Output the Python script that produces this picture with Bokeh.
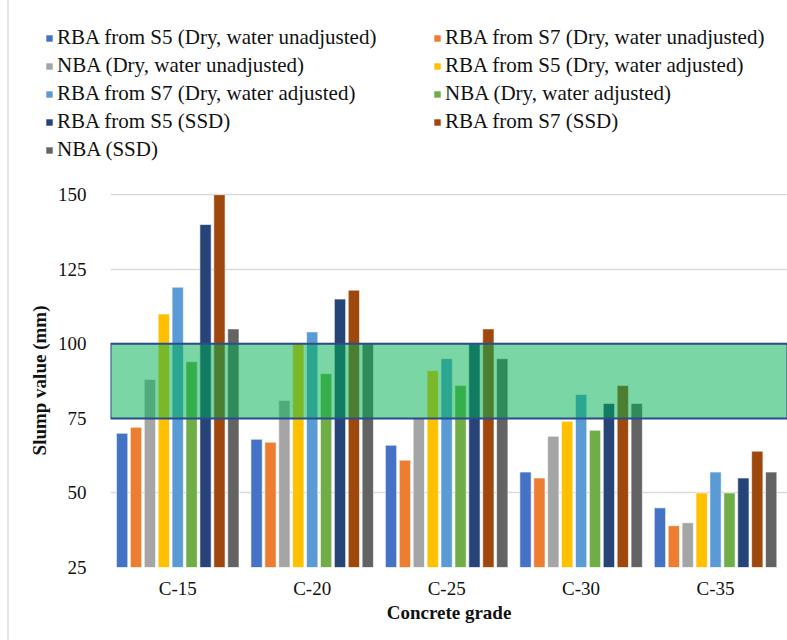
from bokeh.plotting import figure
from bokeh.models import (ColumnDataSource, Range1d, FixedTicker, Legend, LegendItem,
                          BoxAnnotation)
from bokeh.layouts import column
from bokeh.transform import dodge
from bokeh.embed import file_html
from bokeh.resources import INLINE

grades = ["C-15", "C-20", "C-25", "C-30", "C-35"]
series = [
    "RBA from S5 (Dry, water unadjusted)",
    "RBA from S7 (Dry, water unadjusted)",
    "NBA (Dry, water unadjusted)",
    "RBA from S5 (Dry, water adjusted)",
    "RBA from S7 (Dry, water adjusted)",
    "NBA (Dry, water adjusted)",
    "RBA from S5 (SSD)",
    "RBA from S7 (SSD)",
    "NBA (SSD)",
]
rba_s5_dry_unadj = [70, 68, 66, 57, 45]
rba_s7_dry_unadj = [72, 67, 61, 55, 39]
nba_dry_unadj = [88, 81, 75, 69, 40]
rba_s5_dry_adj = [110, 100, 91, 74, 50]
rba_s7_dry_adj = [119, 104, 95, 83, 57]
nba_dry_adj = [94, 90, 86, 71, 50]
rba_s5_ssd = [140, 115, 100, 80, 55]
rba_s7_ssd = [150, 118, 105, 86, 64]
nba_ssd = [105, 100, 95, 80, 57]
values = [rba_s5_dry_unadj, rba_s7_dry_unadj, nba_dry_unadj, rba_s5_dry_adj,
          rba_s7_dry_adj, nba_dry_adj, rba_s5_ssd, rba_s7_ssd, nba_ssd]
colors = ["#4472C4", "#ED7D31", "#A5A5A5", "#FFC000", "#5B9BD5",
          "#70AD47", "#264478", "#9E480E", "#636363"]
acceptable_low, acceptable_high = 75, 100

FONT = "Liberation Serif"
TXT = "#111111"
SHIFT = 9  # left margin taken by the chart's frame border line

# ---- main chart ----
p = figure(width=787 - SHIFT, height=457, output_backend="svg", toolbar_location=None,
           x_range=Range1d(0, 5.035), y_range=Range1d(25, 150.4),
           min_border_left=110 - SHIFT, min_border_right=0, min_border_top=10,
           min_border_bottom=73)
p.frame_align = False
p.outline_line_color = None
p.xgrid.grid_line_color = None
p.ygrid.grid_line_color = "#D9D9D9"
p.ygrid.grid_line_width = 1.5
p.yaxis.ticker = FixedTicker(ticks=[25, 50, 75, 100, 125, 150])
p.xaxis.ticker = FixedTicker(ticks=[i + 0.5 for i in range(len(grades))])
p.xaxis.major_label_overrides = {i + 0.5: g for i, g in enumerate(grades)}

for ax in (p.xaxis[0], p.yaxis[0]):
    ax.axis_line_color = None
    ax.major_tick_line_color = None
    ax.minor_tick_line_color = None
    ax.major_label_text_font = FONT
    ax.major_label_text_font_size = "19px"
    ax.major_label_text_color = TXT
    ax.axis_label_text_font = FONT
    ax.axis_label_text_font_size = "19px"
    ax.axis_label_text_font_style = "bold"
    ax.axis_label_text_color = TXT
p.xaxis.axis_label = "Concrete grade"
p.yaxis.axis_label = "Slump value (mm)"
p.xaxis.major_label_standoff = 4
p.xaxis.axis_label_standoff = 0
p.yaxis.major_label_standoff = 18
p.yaxis.axis_label_standoff = 5

pos = [i + 0.5 for i in range(len(grades))]
pitch = 0.1034
for j, (vals, c) in enumerate(zip(values, colors)):
    src = ColumnDataSource(dict(x=pos, top=vals))
    p.vbar(x=dodge("x", (j - 4) * pitch, range=p.x_range), top="top", bottom=25,
           width=0.084, source=src, fill_color=c, line_color="white",
           line_alpha=0.6, line_width=1)

box = BoxAnnotation(bottom=acceptable_low, top=acceptable_high,
                    fill_color="#00B050", fill_alpha=0.52,
                    line_color="#2F4B8F", line_alpha=1, line_width=2)
p.add_layout(box)

# ---- legend panel ----
lf = figure(width=787 - SHIFT, height=183, output_backend="svg", toolbar_location=None,
            x_axis_type=None, y_axis_type=None, x_range=Range1d(0, 1), y_range=Range1d(0, 1),
            min_border_left=0, min_border_right=0, min_border_top=0, min_border_bottom=0)
lf.frame_align = False
lf.outline_line_color = None
lf.xgrid.grid_line_color = None
lf.ygrid.grid_line_color = None
# legend swatches only: one point outside the panel's range each
leg_r = [lf.vbar(x=[-5], top=[-5], bottom=[-6], width=0.1, fill_color=c, line_color=None)
         for c in colors]

def make_legend(idx, loc):
    lg = Legend(items=[LegendItem(label=series[k], renderers=[leg_r[k]]) for k in idx],
                location=loc, orientation="vertical",
                label_text_font=FONT, label_text_font_size="21px",
                label_text_color=TXT, glyph_width=8, glyph_height=8,
                label_standoff=4, label_height=23, spacing=3, padding=0, margin=0,
                background_fill_alpha=0, border_line_alpha=0)
    lf.add_layout(lg, "center")

make_legend([0, 2, 4, 6, 8], (45 - SHIFT, 21))
make_legend([1, 3, 5, 7], (433 - SHIFT, 49))

layout = column(lf, p, spacing=0,
                styles={"margin-left": "7px", "border-left": "2px solid #E3E3E3"})
open("out.html", "w").write(file_html(layout, INLINE))
